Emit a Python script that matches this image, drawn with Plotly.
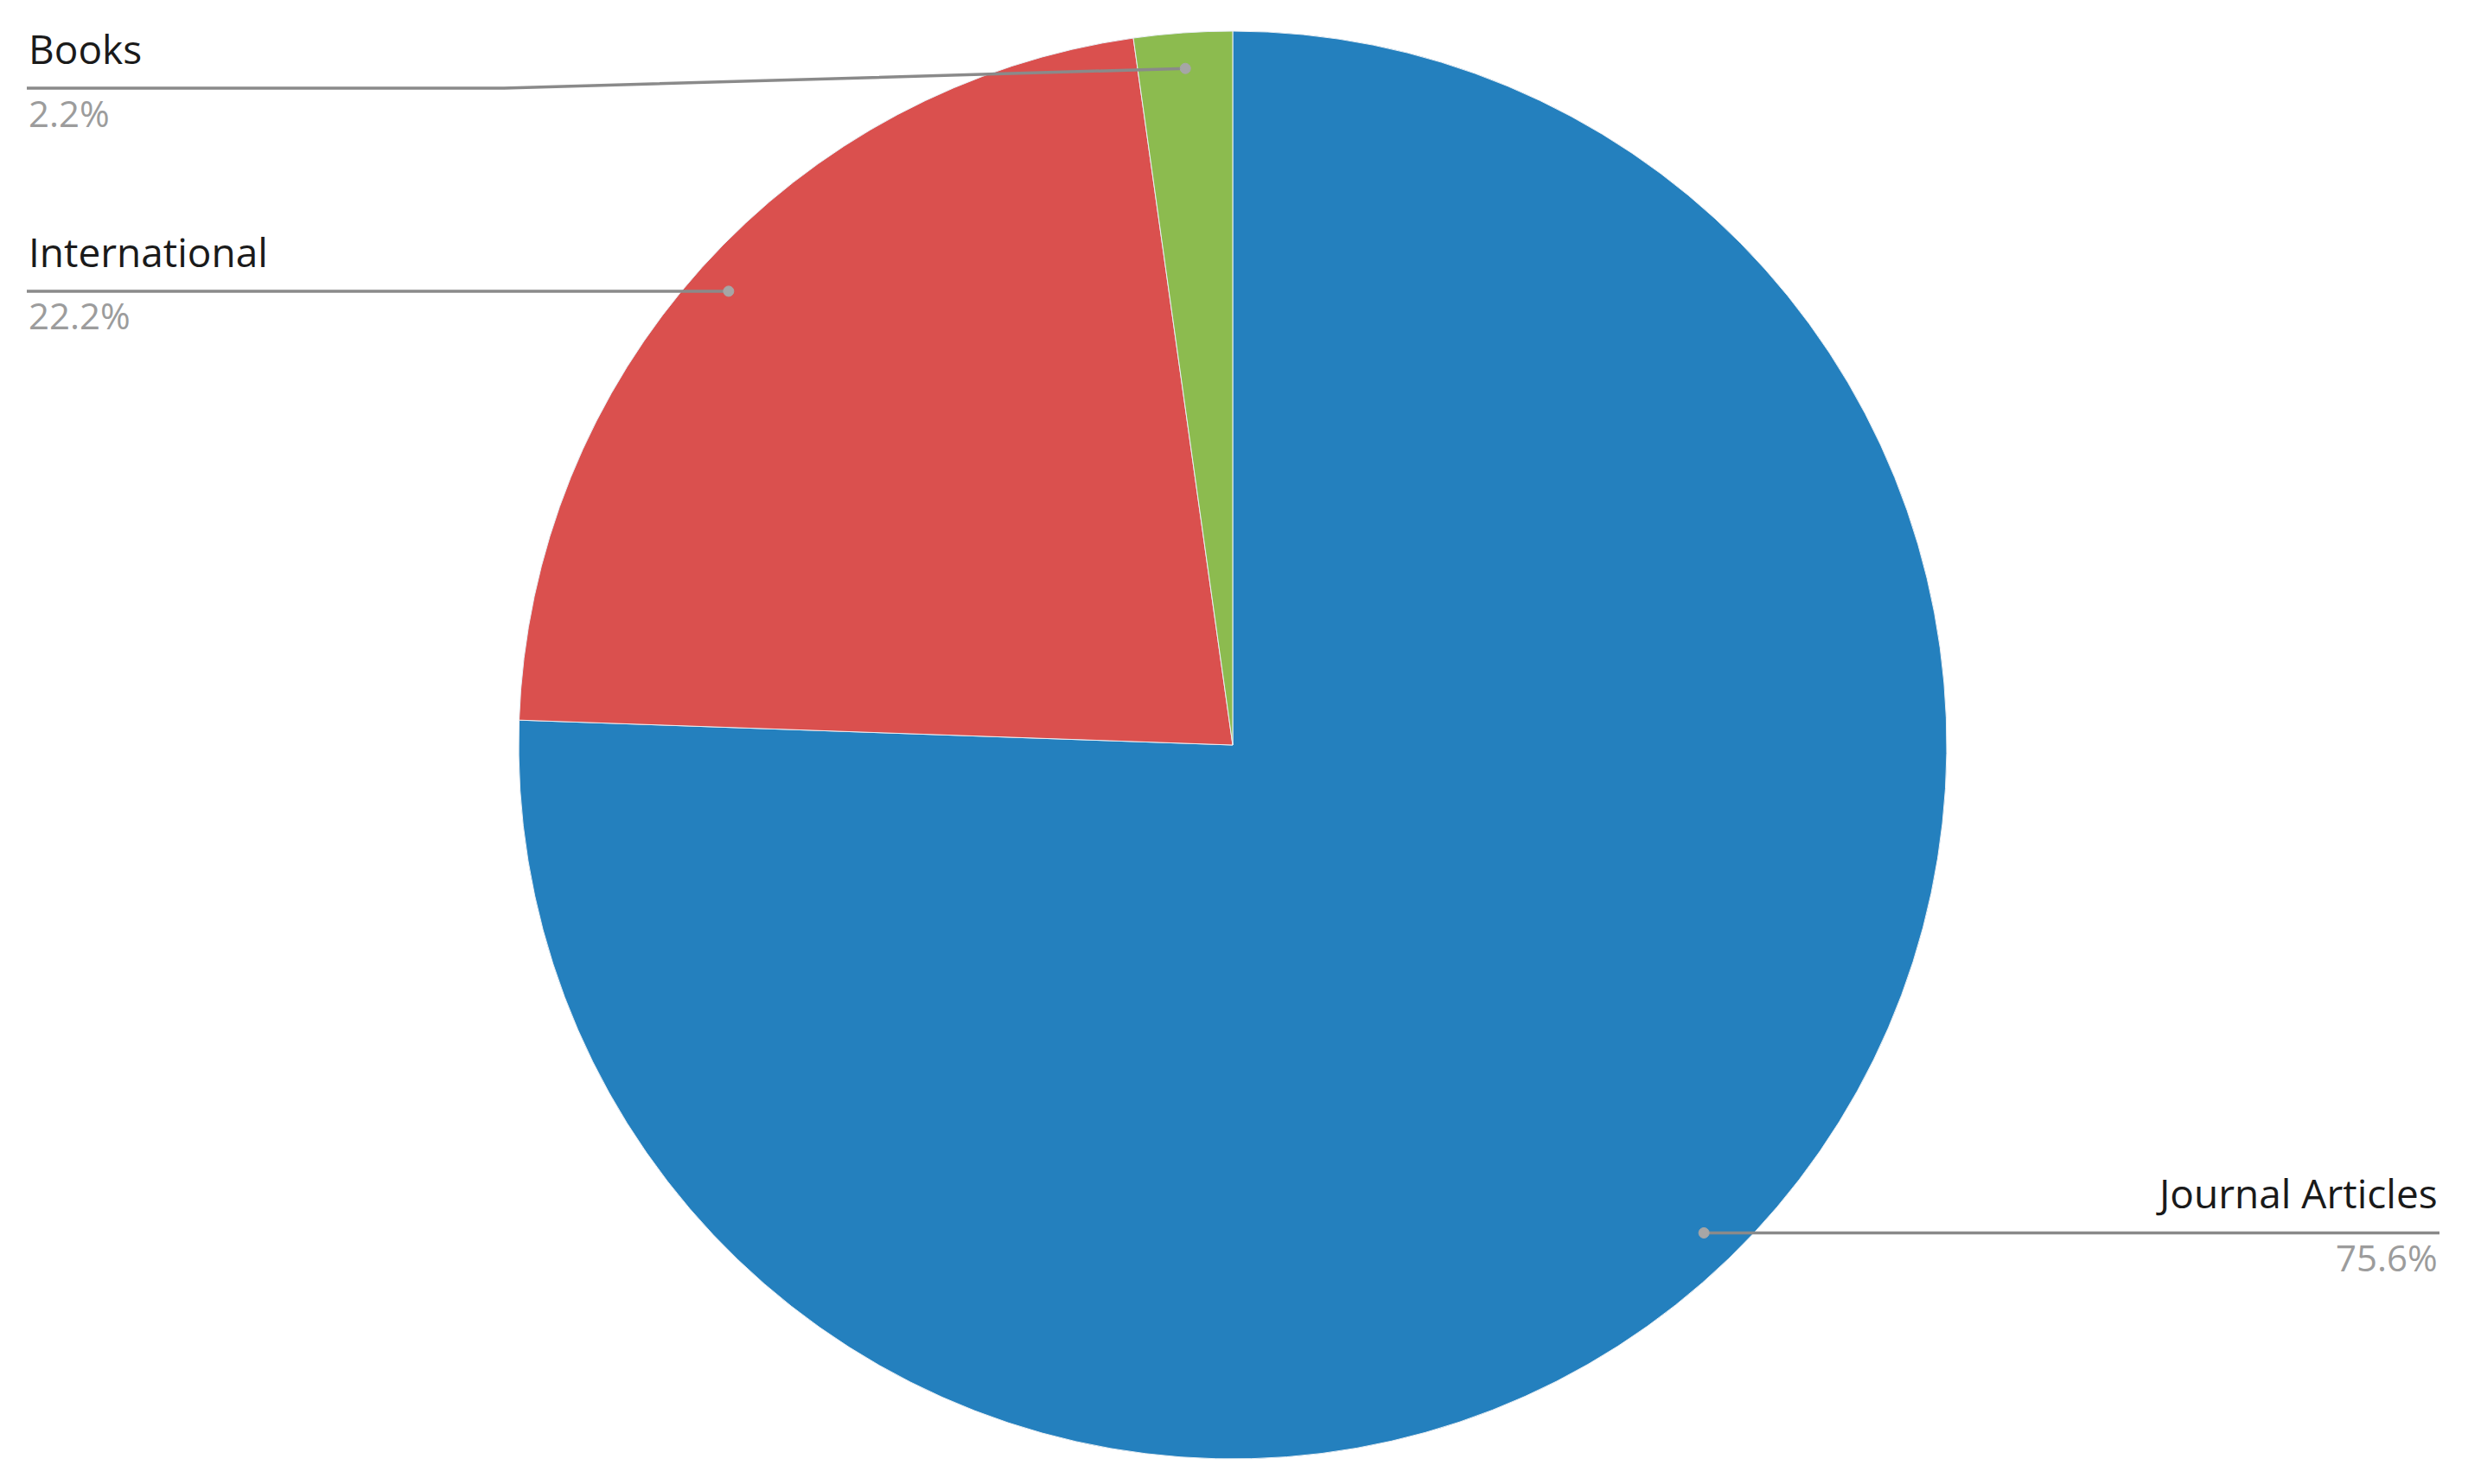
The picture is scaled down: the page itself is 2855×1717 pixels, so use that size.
import math
import plotly.graph_objects as go

# data
categories = ["Journal Articles", "International", "Books"]
counts = [34, 10, 1]
colors = ["#2480be", "#da504e", "#8cbb4f"]

OFF = 8  # page body margin
W, H = 2855 - 2 * OFF, 1717 - 2 * OFF
cx, cy, R = 1426, 862, 826  # pie centre / radius in window pixels

def px(x):
    return (x - OFF) / W

def py(y):
    return 1 - (y - OFF) / H

fig = go.Figure(go.Pie(
    labels=categories,
    values=counts,
    sort=False,
    direction="clockwise",
    rotation=0,
    marker=dict(colors=colors, line=dict(color="#e8eef4", width=1)),
    textinfo="none",
    hoverinfo="label+percent",
    showlegend=False,
    domain=dict(x=[px(cx - R), px(cx + R)], y=[py(cy + R), py(cy - R)]),
))

total = sum(counts)
cum = 0
line_col = "#8a8a8a"
for name, v in zip(categories, counts):
    frac = v / total
    mid = (cum + frac / 2) * 2 * math.pi
    cum += frac
    dx, dy = math.sin(mid), -math.cos(mid)
    x0, y0 = cx + 0.95 * R * dx, cy + 0.95 * R * dy
    right = dx > 0
    ly = max(y0, 102)
    xend = 2822 if right else 31
    if ly != y0:
        elbow = 583
        path = f"M {px(x0)} {py(y0)} L {px(elbow)} {py(ly)} L {px(xend)} {py(ly)}"
    else:
        path = f"M {px(x0)} {py(y0)} L {px(xend)} {py(ly)}"
    fig.add_shape(type="path", path=path, xref="paper", yref="paper",
                  line=dict(color=line_col, width=3.5))
    r = 6
    fig.add_shape(type="circle", xref="paper", yref="paper",
                  x0=px(x0 - r), x1=px(x0 + r), y0=py(y0 + r), y1=py(y0 - r),
                  fillcolor="#a6a6a6", line=dict(color="#a6a6a6", width=1))
    anchor = "right" if right else "left"
    fig.add_annotation(x=px(xend), y=py(ly), xref="paper", yref="paper",
                       text=name, showarrow=False, xanchor=anchor, yanchor="middle",
                       yshift=46, font=dict(size=46, color="#1a1a1a"))
    fig.add_annotation(x=px(xend), y=py(ly), xref="paper", yref="paper",
                       text=f"{frac * 100:.1f}%", showarrow=False, xanchor=anchor,
                       yanchor="middle", yshift=-28, font=dict(size=42, color="#9c9c9c"))

fig.update_layout(
    width=W, height=H,
    margin=dict(l=0, r=0, t=0, b=0),
    paper_bgcolor="white",
    plot_bgcolor="white",
    font=dict(family="Open Sans, Noto Sans, sans-serif"),
)

fig.write_html("out.html")
